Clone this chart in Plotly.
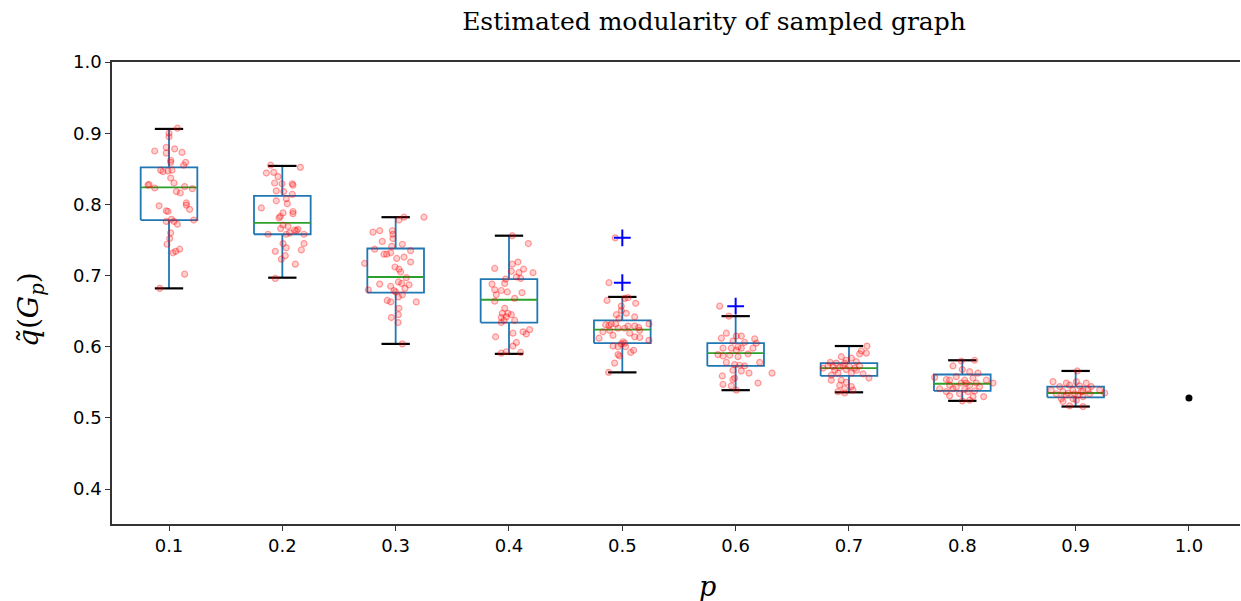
import plotly.graph_objects as go

# ---------------- data ----------------
P_LABELS = ["0.1", "0.2", "0.3", "0.4", "0.5", "0.6", "0.7", "0.8", "0.9", "1.0"]
BOX_POS = [1, 2, 3, 4, 5, 6, 7, 8, 9]

Q1 = [0.778, 0.758, 0.676, 0.634, 0.605, 0.573, 0.559, 0.538, 0.529]
MEDIAN = [0.824, 0.774, 0.698, 0.666, 0.624, 0.591, 0.570, 0.548, 0.535]
Q3 = [0.852, 0.812, 0.738, 0.695, 0.637, 0.605, 0.577, 0.561, 0.544]
WHISK_LO = [0.682, 0.697, 0.604, 0.590, 0.564, 0.539, 0.536, 0.524, 0.516]
WHISK_HI = [0.906, 0.854, 0.782, 0.756, 0.670, 0.643, 0.601, 0.581, 0.566]

OUTLIER_POS = [5, 5, 6]
OUTLIER_Q = [0.753, 0.690, 0.657]

FULL_POS = [10]
FULL_Q = [0.528]

S1 = [0.907, 0.900, 0.895, 0.875, 0.880, 0.878, 0.872, 0.873, 0.862, 0.859, 0.859, 0.855,
      0.848, 0.846, 0.847, 0.848, 0.837, 0.827, 0.828, 0.823, 0.830, 0.825, 0.822, 0.818,
      0.816, 0.802, 0.799, 0.798, 0.791, 0.790, 0.793, 0.778, 0.779, 0.776, 0.772, 0.776,
      0.760, 0.752, 0.744, 0.732, 0.734, 0.737, 0.702, 0.682]
J1 = [0.074, 0.0, 0.0, -0.126, -0.024, 0.05, -0.024, 0.115, 0.015, 0.015, 0.147, 0.129,
      -0.074, -0.053, -0.009, 0.026, 0.015, -0.185, -0.176, -0.126, 0.044, 0.138, 0.206, 0.065,
      0.1, 0.153, 0.153, -0.088, -0.024, -0.009, 0.182, 0.218, 0.021, 0.044, 0.074, -0.024,
      0.015, 0.006, -0.018, 0.035, 0.059, 0.094, 0.138, -0.082]

S2 = [0.855, 0.852, 0.844, 0.845, 0.839, 0.830, 0.829, 0.829, 0.827, 0.819, 0.818, 0.814,
      0.808, 0.805, 0.801, 0.795, 0.788, 0.790, 0.787, 0.783, 0.781, 0.771, 0.766, 0.769,
      0.764, 0.765, 0.763, 0.760, 0.758, 0.758, 0.758, 0.745, 0.745, 0.739, 0.736, 0.734,
      0.728, 0.723, 0.716, 0.696]
J2 = [-0.103, 0.159, -0.141, -0.076, -0.038, -0.068, -0.003, 0.088, 0.094, -0.053, 0.012, 0.088,
      0.035, -0.053, 0.044, -0.185, 0.006, 0.094, 0.094, -0.018, -0.029, 0.006, -0.015, 0.05,
      0.109, 0.138, 0.124, 0.065, 0.035, -0.126, 0.191, 0.006, 0.191, 0.035, 0.168, -0.062,
      0.026, -0.009, 0.115, -0.062]

S3 = [0.782, 0.778, 0.782, 0.761, 0.763, 0.763, 0.758, 0.752, 0.748, 0.744, 0.741, 0.737,
      0.735, 0.730, 0.730, 0.732, 0.724, 0.726, 0.717, 0.719, 0.712, 0.709, 0.705, 0.697,
      0.691, 0.689, 0.688, 0.687, 0.685, 0.680, 0.679, 0.677, 0.682, 0.673, 0.670, 0.665,
      0.663, 0.663, 0.654, 0.645, 0.641, 0.634, 0.604]
J3 = [0.074, 0.029, 0.25, -0.2, -0.141, -0.029, -0.024, -0.024, -0.118, 0.059, -0.035, -0.185,
      0.132, -0.103, -0.079, -0.044, 0.009, 0.074, -0.274, 0.132, -0.006, 0.029, 0.044, 0.094,
      0.024, 0.053, -0.141, 0.118, -0.044, -0.241, -0.015, 0.0, 0.082, 0.059, 0.024, -0.074,
      -0.044, 0.182, 0.029, 0.024, -0.038, 0.021, 0.059]

S4 = [0.756, 0.745, 0.716, 0.719, 0.710, 0.706, 0.709, 0.704, 0.704, 0.698, 0.696, 0.695,
      0.688, 0.689, 0.680, 0.679, 0.677, 0.676, 0.673, 0.668, 0.664, 0.654, 0.647, 0.647,
      0.645, 0.642, 0.641, 0.637, 0.637, 0.634, 0.619, 0.614, 0.621, 0.618, 0.624, 0.606,
      0.601, 0.591, 0.593, 0.592]
J4 = [0.029, 0.171, 0.029, 0.079, -0.126, 0.021, 0.129, 0.212, 0.088, 0.065, 0.103, -0.029,
      -0.15, -0.038, -0.126, -0.068, -0.015, 0.115, -0.112, 0.05, -0.126, -0.038, -0.059, -0.009,
      0.021, -0.024, -0.068, -0.044, 0.05, -0.068, 0.035, -0.118, 0.124, 0.153, 0.182, 0.065,
      0.035, -0.068, -0.024, 0.103]

S5 = [0.753, 0.690, 0.669, 0.668, 0.665, 0.661, 0.657, 0.651, 0.647, 0.642, 0.640, 0.645,
      0.632, 0.631, 0.630, 0.632, 0.629, 0.629, 0.627, 0.632, 0.621, 0.623, 0.626, 0.626,
      0.623, 0.619, 0.612, 0.616, 0.614, 0.613, 0.609, 0.607, 0.604, 0.605, 0.601, 0.600,
      0.600, 0.595, 0.592, 0.589, 0.587, 0.577, 0.564]
J5 = [-0.062, -0.118, 0.05, 0.021, -0.135, 0.118, -0.009, -0.009, 0.035, 0.109, -0.029, -0.053,
      -0.059, -0.147, -0.118, -0.097, 0.05, 0.109, 0.144, 0.235, -0.171, -0.112, -0.038, 0.021,
      0.153, 0.065, -0.206, -0.082, 0.109, 0.153, 0.235, 0.006, -0.009, 0.021, -0.082, -0.038,
      0.029, 0.1, 0.074, -0.038, -0.024, -0.068, -0.121]

S6 = [0.657, 0.643, 0.619, 0.612, 0.615, 0.615, 0.611, 0.605, 0.606, 0.608, 0.598, 0.600,
      0.598, 0.595, 0.598, 0.598, 0.589, 0.587, 0.588, 0.586, 0.590, 0.578, 0.575, 0.574,
      0.573, 0.578, 0.567, 0.566, 0.563, 0.563, 0.559, 0.554, 0.556, 0.547, 0.545, 0.539,
      0.549]
J6 = [-0.141, -0.059, -0.082, -0.126, 0.006, 0.05, 0.168, 0.182, 0.079, -0.024, -0.112, 0.021,
      -0.038, 0.006, 0.05, 0.153, -0.156, -0.112, -0.053, 0.021, 0.109, -0.082, -0.009, 0.035,
      0.079, 0.212, -0.024, 0.05, 0.118, 0.321, -0.118, -0.024, -0.009, -0.112, -0.038, 0.006,
      0.197]

S7 = [0.601, 0.594, 0.591, 0.590, 0.586, 0.581, 0.584, 0.578, 0.577, 0.579, 0.573, 0.573,
      0.572, 0.573, 0.570, 0.567, 0.568, 0.567, 0.563, 0.563, 0.560, 0.562, 0.556, 0.553,
      0.553, 0.550, 0.546, 0.544, 0.541, 0.537, 0.535, 0.539, 0.571, 0.570, 0.577, 0.572]
J7 = [0.159, 0.109, 0.153, 0.094, -0.068, -0.024, 0.021, -0.165, -0.112, 0.065, -0.185, -0.053,
      0.006, 0.094, -0.229, -0.126, -0.024, 0.065, -0.097, 0.021, -0.156, 0.124, 0.176, -0.156,
      -0.068, -0.024, -0.082, 0.021, -0.038, -0.097, -0.038, 0.035, -0.082, 0.05, -0.038, -0.141]

S8 = [0.581, 0.580, 0.573, 0.568, 0.565, 0.563, 0.557, 0.554, 0.558, 0.553, 0.556, 0.553,
      0.549, 0.546, 0.549, 0.546, 0.544, 0.541, 0.541, 0.540, 0.538, 0.537, 0.534, 0.537,
      0.531, 0.524, 0.530, 0.530, 0.525, 0.543, 0.549, 0.549, 0.553]
J8 = [0.109, -0.009, -0.082, 0.0, 0.065, 0.138, -0.244, -0.141, -0.053, 0.021, 0.094, 0.212,
      0.271, -0.112, -0.009, 0.065, 0.153, -0.2, -0.082, 0.021, 0.109, -0.141, -0.024, 0.05,
      -0.112, 0.0, 0.094, 0.188, 0.065, -0.053, 0.035, 0.124, -0.112]

S9 = [0.566, 0.551, 0.549, 0.551, 0.549, 0.544, 0.546, 0.545, 0.544, 0.539, 0.537, 0.539,
      0.538, 0.539, 0.535, 0.534, 0.532, 0.532, 0.534, 0.527, 0.527, 0.530, 0.523, 0.517,
      0.516, 0.525, 0.537, 0.535, 0.540, 0.534]
J9 = [0.015, -0.2, -0.082, 0.006, 0.094, -0.141, -0.053, 0.035, 0.138, -0.215, -0.112, -0.024,
      0.065, 0.212, 0.256, -0.171, -0.082, 0.021, 0.124, -0.126, -0.024, 0.065, -0.112, -0.053,
      0.065, 0.006, 0.05, -0.068, 0.109, -0.009]

SAMPLES = [S1, S2, S3, S4, S5, S6, S7, S8, S9]
JITTERS = [J1, J2, J3, J4, J5, J6, J7, J8, J9]

TITLE = "Estimated modularity of sampled graph"
X_LABEL = "<i>p</i>"
Y_LABEL = "<i>q̃</i>(<i>G<sub>p</sub></i>)"

# ---------------- styling ----------------
BOX_COLOR = "#1f77b4"
MED_COLOR = "#2ca02c"
BOX_HALF = 0.25
CAP_HALF = 0.125

fig = go.Figure()

bx, by, wx, wy, cx, cy, mx, my = [], [], [], [], [], [], [], []
for pos, q1, med, q3, lo, hi in zip(BOX_POS, Q1, MEDIAN, Q3, WHISK_LO, WHISK_HI):
    bx += [pos - BOX_HALF, pos + BOX_HALF, pos + BOX_HALF, pos - BOX_HALF, pos - BOX_HALF, None]
    by += [q1, q1, q3, q3, q1, None]
    wx += [pos, pos, None, pos, pos, None]
    wy += [q3, hi, None, q1, lo, None]
    cx += [pos - CAP_HALF, pos + CAP_HALF, None, pos - CAP_HALF, pos + CAP_HALF, None]
    cy += [hi, hi, None, lo, lo, None]
    mx += [pos - BOX_HALF, pos + BOX_HALF, None]
    my += [med, med, None]

fig.add_trace(go.Scatter(x=wx, y=wy, mode="lines", line=dict(color=BOX_COLOR, width=1.8),
                         hoverinfo="skip", showlegend=False))
fig.add_trace(go.Scatter(x=bx, y=by, mode="lines", line=dict(color=BOX_COLOR, width=1.8),
                         hoverinfo="skip", showlegend=False))
fig.add_trace(go.Scatter(x=cx, y=cy, mode="lines", line=dict(color="black", width=2.2),
                         hoverinfo="skip", showlegend=False))
fig.add_trace(go.Scatter(x=mx, y=my, mode="lines", line=dict(color=MED_COLOR, width=1.8),
                         hoverinfo="skip", showlegend=False))

px, py = [], []
for pos, s, j in zip(BOX_POS, SAMPLES, JITTERS):
    for v, d in zip(s, j):
        px.append(pos + d)
        py.append(v)
fig.add_trace(go.Scatter(x=px, y=py, mode="markers",
                         marker=dict(size=6, color="rgba(255,0,0,0.18)",
                                     line=dict(color="rgba(255,0,0,0.35)", width=1.2)),
                         showlegend=False))

fig.add_trace(go.Scatter(x=OUTLIER_POS, y=OUTLIER_Q, mode="markers",
                         marker=dict(symbol="cross-thin", size=12, color="blue",
                                     line=dict(color="blue", width=2)),
                         showlegend=False))

fig.add_trace(go.Scatter(x=FULL_POS, y=FULL_Q, mode="markers",
                         marker=dict(size=7, color="black"), showlegend=False))

W, H = 1241, 601
L, R, T, B = 112, 1, 62, 77
PW, PH = W - L - R, H - T - B
px_per_unit = 113.33
x0 = 1 - 57 / px_per_unit
x1 = x0 + PW / px_per_unit

fig.update_layout(
    width=W, height=H,
    margin=dict(l=L, r=R, t=T, b=B),
    plot_bgcolor="white", paper_bgcolor="white",
    font=dict(family="DejaVu Sans", size=18, color="black"),
    title=dict(text=TITLE, x=714 / W, xanchor="center",
               y=1 - 21 / H, yanchor="middle",
               font=dict(family="DejaVu Serif", size=25, color="black")),
    annotations=[
        dict(text=X_LABEL, xref="paper", yref="paper",
             x=(707 - L) / PW, y=(T + PH - 586) / PH, xanchor="center", yanchor="middle",
             showarrow=False, font=dict(family="DejaVu Serif", size=27, color="black")),
        dict(text=Y_LABEL, xref="paper", yref="paper", textangle=-90,
             x=(30 - L) / PW, y=(T + PH - 310) / PH, xanchor="center", yanchor="middle",
             showarrow=False, font=dict(family="DejaVu Serif", size=28, color="black")),
    ],
)
fig.update_xaxes(
    range=[x0, x1], tickmode="array", tickvals=list(range(1, 11)), ticktext=P_LABELS,
    showgrid=False, zeroline=False, showline=True, mirror=True, linecolor="#333333", linewidth=1.5,
    ticks="outside", ticklen=5, tickwidth=1.2, tickcolor="#333333",
    tickfont=dict(family="DejaVu Sans", size=18, color="black"),
)
fig.update_yaxes(
    range=[0.351, 1.0], tickmode="array", tickvals=[0.4, 0.5, 0.6, 0.7, 0.8, 0.9, 1.0],
    ticktext=["0.4", "0.5", "0.6", "0.7", "0.8", "0.9", "1.0"],
    showgrid=False, zeroline=False, showline=True, mirror=False, linecolor="#333333", linewidth=1.5,
    ticks="outside", ticklen=5, tickwidth=1.2, tickcolor="#333333",
    tickfont=dict(family="DejaVu Sans", size=18, color="black"),
)

fig.write_html(
    "out.html",
    config={"displayModeBar": False},
    post_script="document.body.style.margin='0';document.body.style.padding='0';"
                "document.documentElement.style.overflow='hidden';",
)
